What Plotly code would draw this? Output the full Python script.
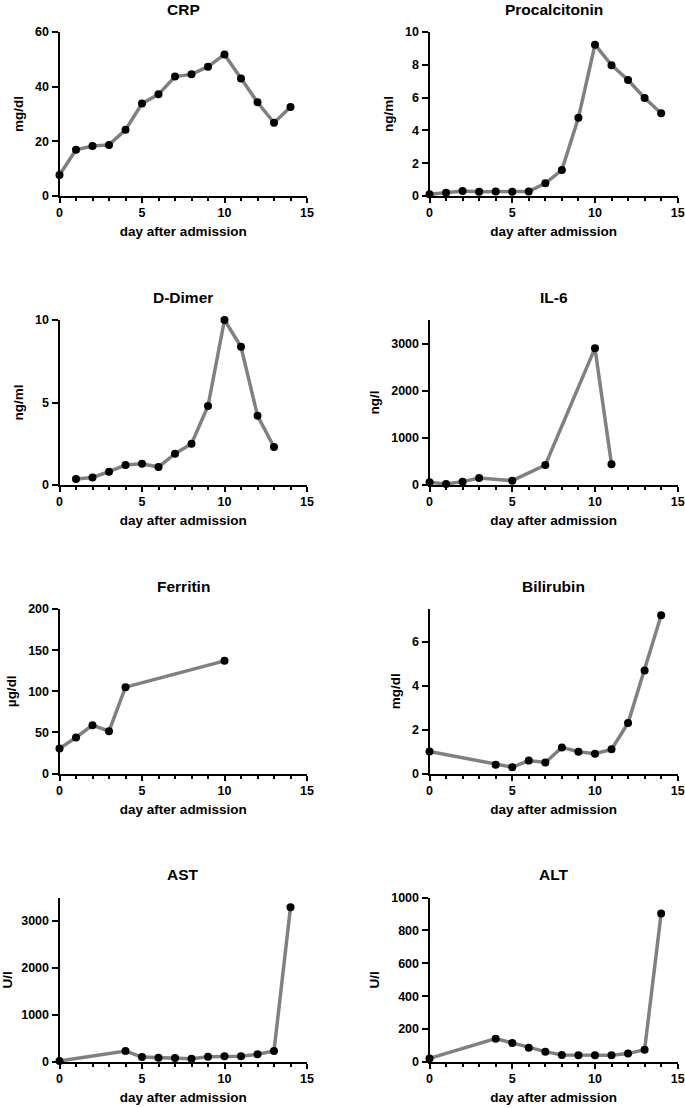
import plotly.graph_objects as go

# ---- data ----
crp_day = [0, 1, 2, 3, 4, 5, 6, 7, 8, 9, 10, 11, 12, 13, 14]
crp_val = [7.7, 16.9, 18.3, 18.7, 24.2, 33.8, 37.2, 43.7, 44.5, 47.3, 51.8, 43.0, 34.3, 26.8, 32.6]

pct_day = [0, 1, 2, 3, 4, 5, 6, 7, 8, 9, 10, 11, 12, 13, 14]
pct_val = [0.1, 0.2, 0.3, 0.26, 0.28, 0.26, 0.28, 0.77, 1.58, 4.77, 9.23, 7.98, 7.07, 5.98, 5.05]

ddimer_day = [1, 2, 3, 4, 5, 6, 7, 8, 9, 10, 11, 12, 13]
ddimer_val = [0.36, 0.46, 0.81, 1.21, 1.29, 1.09, 1.9, 2.5, 4.79, 10.0, 8.38, 4.2, 2.3]

il6_day = [0, 1, 2, 3, 5, 7, 10, 11]
il6_val = [57, 21, 71, 149, 92, 425, 2902, 439]

ferritin_day = [0, 1, 2, 3, 4, 10]
ferritin_val = [30.4, 43.8, 58.8, 51.5, 105, 137]

bili_day = [0, 4, 5, 6, 7, 8, 9, 10, 11, 12, 13, 14]
bili_val = [1.0, 0.4, 0.29, 0.59, 0.5, 1.19, 0.99, 0.9, 1.1, 2.3, 4.7, 7.22]

ast_day = [0, 4, 5, 6, 7, 8, 9, 10, 11, 12, 13, 14]
ast_val = [21, 234, 106, 92, 85, 71, 113, 121, 121, 163, 234, 3291]

alt_day = [0, 4, 5, 6, 7, 8, 9, 10, 11, 12, 13, 14]
alt_val = [22, 142, 116, 87, 63, 43, 41, 41, 41, 51, 75, 903]

titles = ["CRP", "Procalcitonin", "D-Dimer", "IL-6", "Ferritin", "Bilirubin", "AST", "ALT"]
units = ["mg/dl", "ng/ml", "ng/ml", "ng/l", "µg/dl", "mg/dl", "U/l", "U/l"]
y_ranges = [[0, 60], [0, 10], [0, 10], [0, 3500], [0, 200], [0, 7.5], [0, 3500], [0, 1000]]
y_dticks = [20, 2, 5, 1000, 50, 2, 1000, 200]
x_ticks = [0, 5, 10, 15]
x_label = "day after admission"

series = [(crp_day, crp_val), (pct_day, pct_val), (ddimer_day, ddimer_val), (il6_day, il6_val),
          (ferritin_day, ferritin_val), (bili_day, bili_val), (ast_day, ast_val), (alt_day, alt_val)]

# ---- layout geometry ----
W, H = 685, 1108
col_px = [(59.5, 307.0), (429.5, 677.7)]
row_px = [(32, 196), (320, 485), (609, 773.5), (897.5, 1062)]

FONT = "Liberation Sans, Arial, sans-serif"
fig = go.Figure()
layout = dict(
    width=W, height=H, margin=dict(l=0, r=0, t=0, b=0, autoexpand=False),
    paper_bgcolor="white", plot_bgcolor="white", showlegend=False,
    font=dict(family=FONT, color="black", size=12),
)
annotations = []
for i, ((xs, ys), title, unit) in enumerate(zip(series, titles, units)):
    r, c = divmod(i, 2)
    k = i + 1
    xa = "xaxis" if k == 1 else f"xaxis{k}"
    ya = "yaxis" if k == 1 else f"yaxis{k}"
    xref = "x" if k == 1 else f"x{k}"
    yref = "y" if k == 1 else f"y{k}"
    x0, x1 = col_px[c]
    top, bot = row_px[r]
    xd = [x0 / W, x1 / W]
    yd = [1 - bot / H, 1 - top / H]
    fig.add_trace(go.Scatter(
        x=xs, y=ys, xaxis=xref, yaxis=yref, mode="lines+markers",
        line=dict(color="#808080", width=3.5),
        marker=dict(color="black", size=8),
        cliponaxis=False,
    ))
    layout[xa] = dict(
        domain=xd, anchor=yref, range=[0, 15], tickvals=x_ticks, automargin=False,
        showline=True, linecolor="black", linewidth=2, mirror=False,
        ticks="outside", ticklen=5, tickwidth=2, tickcolor="black",
        minor=dict(dtick=1, ticks="outside", ticklen=3, tickwidth=1.5, tickcolor="black"),
        showgrid=False, zeroline=False, ticklabelstandoff=-1,
        tickfont=dict(family=FONT, size=12.5, color="black", weight="bold"),
        title=dict(text=x_label, font=dict(family=FONT, size=13.5, color="black", weight="bold"), standoff=8),
    )
    layout[ya] = dict(
        domain=yd, anchor=xref, range=y_ranges[i], dtick=y_dticks[i], tick0=0, automargin=False,
        showline=True, linecolor="black", linewidth=2,
        ticks="outside", ticklen=6, tickwidth=2, tickcolor="black",
        showgrid=False, zeroline=False,
        tickfont=dict(family=FONT, size=12.5, color="black", weight="bold"),
        title=dict(text=unit, font=dict(family=FONT, size=13.5, color="black", weight="bold"), standoff=8),
    )
    annotations.append(dict(
        text=title, x=(x0 + x1) / 2 / W, y=1 - (top - 23) / H, xref="paper", yref="paper",
        xanchor="center", yanchor="middle", showarrow=False,
        font=dict(family=FONT, size=15.5, color="black", weight="bold"),
    ))
layout["annotations"] = annotations
fig.update_layout(**layout)
fig.write_html("out.html", config={"displayModeBar": False},
               post_script="document.body.style.margin='0';")
